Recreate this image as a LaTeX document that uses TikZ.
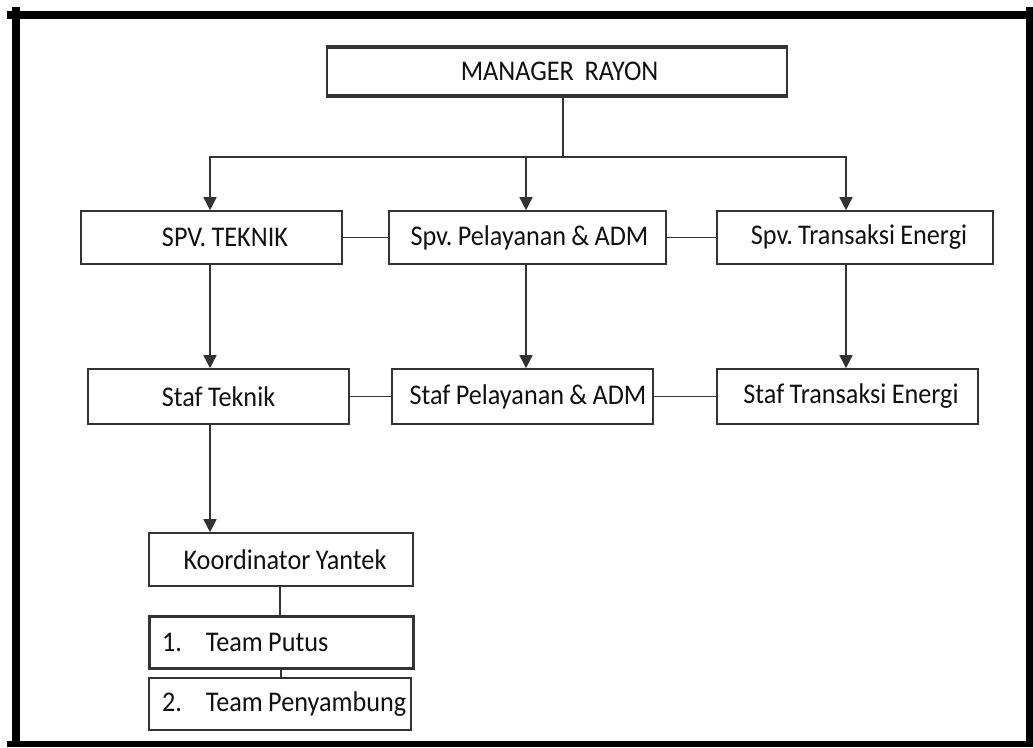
\documentclass[tikz,border=0pt]{standalone}
\usepackage{fontspec}
\setmainfont{Carlito}[FakeStretch=0.92, WordSpace=0.9]
\frenchspacing
\usetikzlibrary{arrows.meta}
\definecolor{ln}{HTML}{333333}
\definecolor{tx}{HTML}{111111}
\tikzset{
  box/.style={draw=ln, line width=1.6pt, fill=white, inner sep=0pt, text=tx,
    font=\fontsize{28.5}{32}\selectfont},
  conn/.style={draw=ln, line width=1.6pt},
  arr/.style={conn, -{Triangle[width=13pt,length=13pt]}},
  frame/.style={fill=black, draw=none}
}
\begin{document}
\begin{tikzpicture}[x=1pt,y=-1pt]
\useasboundingbox (0,0) rectangle (1033,747);
\fill[white] (0,0) rectangle (1033,747);
% outer frame
\path[frame] (7,11) rectangle (1033,19);
\path[frame] (12,7) rectangle (20,747);
\path[frame] (1026,7) rectangle (1033,747);
\path[frame] (7,741) rectangle (1033,747);

% boxes
\node[box, minimum width=460pt, minimum height=47pt] (mgr) at (557,71.5) {\hspace*{5pt}MANAGER~~RAYON};
\draw[ln, line width=3.5pt] (mgr.north west) -- (mgr.north east);
\draw[ln, line width=3.5pt] (mgr.south west) -- (mgr.south east);

\node[box, minimum width=261pt, minimum height=53pt] (spvT) at (211.5,237.5) {\hspace*{27pt}SPV. TEKNIK};
\node[box, minimum width=277pt, minimum height=53pt] (spvP) at (527.5,237.5) {\hspace*{4pt}Spv. Pelayanan \& ADM};
\node[box, minimum width=276pt, minimum height=53pt] (spvE) at (855,237.5) {\hspace*{8pt}Spv. Transaksi Energi};

\node[box, minimum width=261pt, minimum height=55pt] (stT) at (218.5,396.5) {Staf Teknik};
\node[box, minimum width=261pt, minimum height=55pt] (stP) at (522.5,396.5) {\hspace*{11pt}Staf Pelayanan \& ADM};
\node[box, minimum width=261pt, minimum height=55pt] (stE) at (847.5,396.5) {\hspace*{7pt}Staf Transaksi Energi};

\node[box, minimum width=264pt, minimum height=53pt] (koor) at (281,559.5) {\hspace*{8pt}Koordinator Yantek};
\node[box, line width=3pt, minimum width=264pt, minimum height=52pt] (t1) at (281,642) {\makebox[238pt][l]{1.\hspace{24pt}Team Putus}};
\node[box, minimum width=262pt, minimum height=52pt] (t2) at (280,704) {\makebox[236pt][l]{2.\hspace{24pt}Team Penyambung}};

% connectors
\coordinate (hub) at (563,157);
\draw[conn] ([xshift=6pt]mgr.south) -- (hub);
\draw[arr] (hub) -| ([xshift=-1.5pt]spvT.north);
\draw[arr] (hub) -| ([xshift=-1.5pt]spvP.north);
\draw[arr] (hub) -| ([xshift=-9pt]spvE.north);

\draw[conn] (spvT.east) -- (spvP.west);
\draw[conn] (spvP.east) -- (spvE.west);
\draw[conn] (stT.east) -- (stP.west);
\draw[conn] (stP.east) -- (stE.west);

\draw[arr] ([xshift=-1.5pt]spvT.south) -- ([xshift=-1.5pt]spvT.south |- stT.north);
\draw[arr] ([xshift=-1.5pt]spvP.south) -- ([xshift=-1.5pt]spvP.south |- stP.north);
\draw[arr] ([xshift=-9pt]spvE.south) -- ([xshift=-9pt]spvE.south |- stE.north);

\draw[arr] ([xshift=-8.5pt]stT.south) -- ([xshift=-8.5pt]stT.south |- koor.north);
\draw[conn] ([xshift=-1pt]koor.south) -- ([xshift=-1pt]koor.south |- t1.north);
\draw[conn] (t1.south) -- (t1.south |- t2.north);
\end{tikzpicture}
\end{document}
